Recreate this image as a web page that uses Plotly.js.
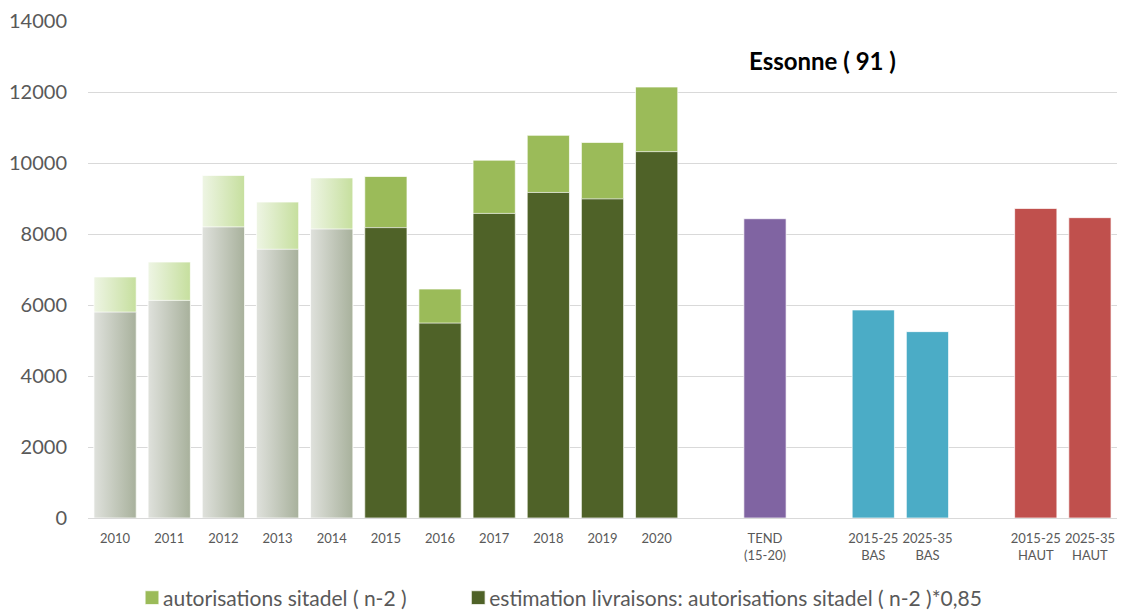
<!DOCTYPE html>
<html>
<head>
<meta charset="utf-8">
<script src="https://cdn.plot.ly/plotly-3.0.1.min.js"></script>
<style>
  html, body { margin: 0; padding: 0; background: #fff; }
  #chart { width: 1122px; height: 610px; }
</style>
</head>
<body>
<div id="chart"></div>
<script>
// Annual series 2010-2020
const years = ['2010', '2011', '2012', '2013', '2014', '2015', '2016', '2017', '2018', '2019', '2020'];
const autorisations = [6790, 7210, 9650, 8900, 9580, 9620, 6450, 10080, 10780, 10580, 12140];
const livraisons = [5800, 6130, 8200, 7570, 8140, 8180, 5490, 8580, 9170, 8990, 10320];

// Projection scenarios
const tendCats = ['TEND<br>(15-20)'];
const tendValues = [8430];
const basCats = ['2015-25<br>BAS', '2025-35<br>BAS'];
const basValues = [5860, 5250];
const hautCats = ['2015-25<br>HAUT', '2025-35<br>HAUT'];
const hautValues = [8720, 8460];

// Early years are drawn faded with a gradient
const fadedYears = 5;

const categoryOrder = [...years, ' ', ...tendCats, '  ', ...basCats, '   ', ...hautCats];

const GREEN = '#9BBB59', DARK = '#4F6228';
const outline = { color: 'rgba(255,255,255,0.7)', width: 1 };
const head = a => a.slice(0, fadedYears);
const tail = a => a.slice(fadedYears);
// Non-breaking padding after the first legend label widens the gap between entries
const legendPad = '\u00A0'.repeat(7);

const traces = [
  { type: 'bar', x: head(years), y: head(autorisations), showlegend: false,
    marker: { color: '#DCEBC4', line: outline } },
  { type: 'bar', x: head(years), y: head(livraisons), showlegend: false,
    marker: { color: '#C4C9BC', line: outline } },
  { type: 'bar', name: 'autorisations sitadel ( n-2 )' + legendPad,
    x: tail(years), y: tail(autorisations),
    marker: { color: GREEN, line: outline } },
  { type: 'bar', name: 'estimation livraisons: autorisations sitadel ( n-2 )*0,85',
    x: tail(years), y: tail(livraisons),
    marker: { color: DARK, line: outline } },
  { type: 'bar', x: tendCats, y: tendValues, showlegend: false,
    marker: { color: '#8064A2', line: outline } },
  { type: 'bar', x: basCats, y: basValues, showlegend: false,
    marker: { color: '#4BACC6', line: outline } },
  { type: 'bar', x: hautCats, y: hautValues, showlegend: false,
    marker: { color: '#C0504D', line: outline } }
];

const layout = {
  width: 1122, height: 610,
  margin: { l: 88, r: 5, t: 21, b: 92 },
  paper_bgcolor: '#fff', plot_bgcolor: '#fff',
  barmode: 'overlay', bargap: 0.22,
  font: { family: 'Lato, "Open Sans", sans-serif', color: '#595959' },
  xaxis: {
    type: 'category', categoryorder: 'array', categoryarray: categoryOrder,
    showgrid: false, showline: true, linecolor: '#D9D9D9', linewidth: 1,
    ticks: '', tickfont: { size: 13, color: '#595959' }, ticklabelstandoff: 8,
    fixedrange: true
  },
  yaxis: {
    range: [0, 14000], tickvals: [0, 2000, 4000, 6000, 8000, 10000, 12000, 14000],
    tickformat: 'd',
    showgrid: true, gridcolor: '#D9D9D9', gridwidth: 1, zeroline: false,
    tickfont: { size: 20, color: '#595959' }, ticklabelstandoff: 20, fixedrange: true
  },
  legend: {
    orientation: 'h', xref: 'container', yref: 'container',
    x: 123 / 1122, xanchor: 'left', y: 1 - 598 / 610, yanchor: 'middle',
    traceorder: 'normal',
    font: { size: 21, color: '#595959' }, itemclick: false, itemdoubleclick: false
  },
  annotations: [{
    text: '<b>Essonne ( 91 )</b>', xref: 'paper', yref: 'paper',
    x: 0.714, y: 0.921, xanchor: 'center', yanchor: 'middle', showarrow: false,
    font: { size: 24, color: '#000' }
  }],
  showlegend: true
};

Plotly.newPlot('chart', traces, layout, { displayModeBar: false, staticPlot: true }).then(gd => {
  // Horizontal gradients for the faded early-year bars
  const svg = gd.querySelector('svg.main-svg');
  const ns = 'http://www.w3.org/2000/svg';
  let defs = svg.querySelector('defs');
  if (!defs) { defs = document.createElementNS(ns, 'defs'); svg.insertBefore(defs, svg.firstChild); }
  function addGrad(id, c1, c2) {
    const g = document.createElementNS(ns, 'linearGradient');
    g.setAttribute('id', id);
    g.setAttribute('x1', '0'); g.setAttribute('y1', '0');
    g.setAttribute('x2', '1'); g.setAttribute('y2', '0');
    [[0, c1], [1, c2]].forEach(([o, c]) => {
      const s = document.createElementNS(ns, 'stop');
      s.setAttribute('offset', o); s.setAttribute('stop-color', c);
      g.appendChild(s);
    });
    defs.appendChild(g);
  }
  addGrad('fadeLight', '#EEF5E4', '#C6DF9E');
  addGrad('fadeGrey', '#DFE1DC', '#A8B19C');
  const barTraces = gd.querySelectorAll('.barlayer .trace');
  [['fadeLight', 0], ['fadeGrey', 1]].forEach(([id, ti]) => {
    barTraces[ti].querySelectorAll('.point path').forEach(p => {
      p.style.fill = 'url(#' + id + ')';
    });
  });
  // Legend swatches sit close to their labels, slightly larger
  gd.querySelectorAll('.legend .legendpoints').forEach(g => {
    g.setAttribute('transform', 'translate(6,0) scale(1.15)');
  });
});
</script>
</body>
</html>
